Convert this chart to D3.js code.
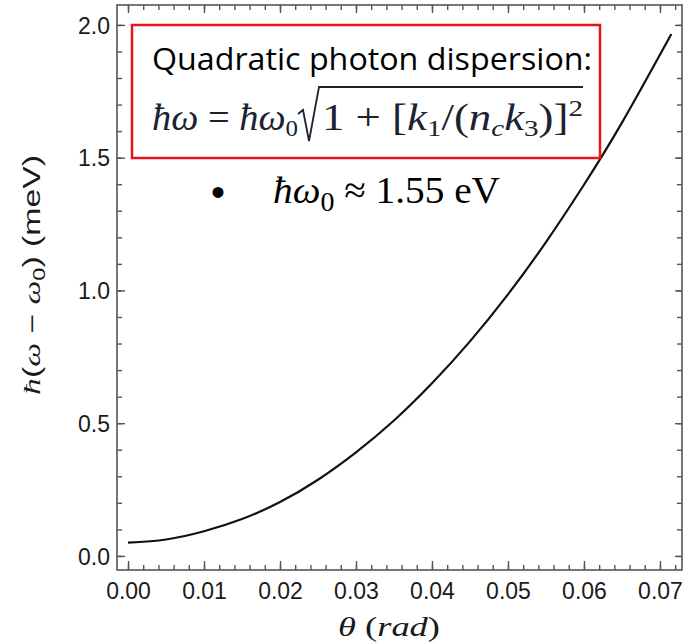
<!DOCTYPE html>
<html>
<head>
<meta charset="utf-8">
<script src="https://cdn.jsdelivr.net/npm/d3@7"></script>
<style>
  body { margin: 0; background: #fff; }
  .tick text { font-family: "Liberation Sans", Arial, sans-serif; font-size: 23px; fill: #1a1a1a; }
  .tick line { stroke: #555; stroke-width: 1.4; }
</style>
</head>
<body>
<div id="chart"></div>
<script>
// ---- data
var thetaVals  = [0, 0.005, 0.01, 0.015, 0.02, 0.025, 0.03, 0.035, 0.04, 0.045, 0.05, 0.055, 0.06, 0.065, 0.0715];
var energyVals = [0.05, 0.062, 0.093, 0.139, 0.203, 0.287, 0.390, 0.510, 0.650, 0.808, 0.985, 1.182, 1.398, 1.632, 1.966];
var xTicks = [0, 0.01, 0.02, 0.03, 0.04, 0.05, 0.06, 0.07];
var yTicks = [0, 0.5, 1.0, 1.5, 2.0];

var width = 696, height = 644;
var frame = {left: 117, right: 682, top: 5, bottom: 570};

var svg = d3.select("#chart").append("svg")
  .attr("width", width)
  .attr("height", height);

var x = d3.scaleLinear().domain([-0.00145, 0.0729]).range([frame.left, frame.right]);
var y = d3.scaleLinear().domain([-0.053, 2.075]).range([frame.bottom, frame.top]);

var xMinor = d3.range(0, 0.0721, 0.002);
var yMinor = d3.range(0, 2.05, 0.1);

// ---- ticks (inward, Mathematica frame style)
function noLabels(a) { return a.tickFormat(""); }

svg.append("g").attr("transform", `translate(0,${frame.bottom})`)
  .call(noLabels(d3.axisBottom(x).tickValues(xMinor).tickSizeInner(-5).tickSizeOuter(0)));
var xAxisG = svg.append("g").attr("transform", `translate(0,${frame.bottom})`)
  .call(d3.axisBottom(x).tickValues(xTicks).tickSizeInner(-9).tickSizeOuter(0).tickPadding(13)
    .tickFormat(d3.format(".2f")));
svg.append("g").attr("transform", `translate(0,${frame.top})`)
  .call(noLabels(d3.axisTop(x).tickValues(xMinor).tickSizeInner(-5).tickSizeOuter(0)));
svg.append("g").attr("transform", `translate(0,${frame.top})`)
  .call(noLabels(d3.axisTop(x).tickValues(xTicks).tickSizeInner(-8).tickSizeOuter(0)));

svg.append("g").attr("transform", `translate(${frame.left},0)`)
  .call(noLabels(d3.axisLeft(y).tickValues(yMinor).tickSizeInner(-5).tickSizeOuter(0)));
var yAxisG = svg.append("g").attr("transform", `translate(${frame.left},0)`)
  .call(d3.axisLeft(y).tickValues(yTicks).tickSizeInner(-8).tickSizeOuter(0).tickPadding(7)
    .tickFormat(d3.format(".1f")));
svg.append("g").attr("transform", `translate(${frame.right},0)`)
  .call(noLabels(d3.axisRight(y).tickValues(yMinor).tickSizeInner(-5).tickSizeOuter(0)));
svg.append("g").attr("transform", `translate(${frame.right},0)`)
  .call(noLabels(d3.axisRight(y).tickValues(yTicks).tickSizeInner(-7).tickSizeOuter(0)));

svg.selectAll(".domain").remove();
yAxisG.selectAll(".tick text").attr("dy", "0.36em");
xAxisG.selectAll(".tick text").attr("dy", "0.71em");

// frame
svg.append("rect")
  .attr("x", frame.left).attr("y", frame.top)
  .attr("width", frame.right - frame.left).attr("height", frame.bottom - frame.top)
  .attr("fill", "none").attr("stroke", "#555").attr("stroke-width", 1.6);

// ---- curve
var pts = thetaVals.map((t, i) => [t, energyVals[i]]);
svg.append("path")
  .datum(pts)
  .attr("fill", "none")
  .attr("stroke", "#111")
  .attr("stroke-width", 2.2)
  .attr("d", d3.line().x(d => x(d[0])).y(d => y(d[1])).curve(d3.curveNatural));

// ---- axis labels
var yLab = svg.append("text")
  .attr("transform", "translate(40,275) rotate(-90)")
  .attr("text-anchor", "middle")
  .attr("font-family", "Liberation Sans, Arial, sans-serif")
  .attr("font-size", 23)
  .attr("fill", "#1a1a1a")
  .attr("textLength", 240).attr("lengthAdjust", "spacingAndGlyphs");
yLab.append("tspan").attr("font-family", "Liberation Serif, serif").attr("font-style", "italic").text("ħ");
yLab.append("tspan").text("(");
yLab.append("tspan").attr("font-family", "Liberation Serif, serif").attr("font-style", "italic").text("ω");
yLab.append("tspan").text(" − ");
yLab.append("tspan").attr("font-family", "Liberation Serif, serif").attr("font-style", "italic").text("ω");
yLab.append("tspan").attr("font-size", 16).attr("dy", 5).text("0");
yLab.append("tspan").attr("dy", -5).text(") (meV)");

var xLab = svg.append("text")
  .attr("x", 389).attr("y", 636)
  .attr("text-anchor", "middle")
  .attr("font-family", "Liberation Serif, serif")
  .attr("font-size", 28)
  .attr("fill", "#1a1a1a")
  .attr("textLength", 102).attr("lengthAdjust", "spacingAndGlyphs");
xLab.append("tspan").attr("font-style", "italic").text("θ");
xLab.append("tspan").text(" (");
xLab.append("tspan").attr("font-style", "italic").text("rad");
xLab.append("tspan").text(")");

// ---- annotation box
svg.append("rect")
  .attr("x", 132).attr("y", 25).attr("width", 468).attr("height", 133)
  .attr("fill", "#fff").attr("stroke", "#e8141b").attr("stroke-width", 2.5);

svg.append("text")
  .attr("x", 152).attr("y", 70)
  .attr("font-family", "Open Sans, sans-serif")
  .attr("font-size", 31)
  .attr("fill", "#000")
  .attr("textLength", 440).attr("lengthAdjust", "spacingAndGlyphs")
  .text("Quadratic photon dispersion:");

var fcol = "#1b2230";
var fA = svg.append("text")
  .attr("x", 152).attr("y", 130)
  .attr("font-family", "Liberation Serif, serif")
  .attr("font-size", 37).attr("fill", fcol)
  .attr("textLength", 146).attr("lengthAdjust", "spacingAndGlyphs");
fA.append("tspan").attr("font-style", "italic").text("ħω");
fA.append("tspan").text(" = ");
fA.append("tspan").attr("font-style", "italic").text("ħω");
fA.append("tspan").attr("font-size", 24).attr("dy", 6).text("0");

// radical sign
svg.append("path")
  .attr("d", "M298,114 L303,110 L309,141 L319,87 L583,87")
  .attr("fill", "none").attr("stroke", fcol).attr("stroke-width", 1.8);

var fB = svg.append("text")
  .attr("x", 322).attr("y", 130)
  .attr("font-family", "Liberation Serif, serif")
  .attr("font-size", 37).attr("fill", fcol)
  .attr("textLength", 261).attr("lengthAdjust", "spacingAndGlyphs");
fB.append("tspan").text("1 + [");
fB.append("tspan").attr("font-style", "italic").text("k");
fB.append("tspan").attr("font-size", 24).attr("dy", 6).text("1");
fB.append("tspan").attr("dy", -6).text("/(");
fB.append("tspan").attr("font-style", "italic").text("n");
fB.append("tspan").attr("font-size", 24).attr("font-style", "italic").attr("dy", 6).text("c");
fB.append("tspan").attr("font-style", "italic").attr("dy", -6).text("k");
fB.append("tspan").attr("font-size", 24).attr("dy", 6).text("3");
fB.append("tspan").attr("dy", -6).text(")]");
fB.append("tspan").attr("font-size", 24).attr("dy", -14).text("2");

// bullet line
svg.append("text")
  .attr("x", 218).attr("y", 192)
  .attr("text-anchor", "middle")
  .attr("dy", "0.35em")
  .attr("font-family", "Liberation Sans, sans-serif")
  .attr("font-size", 40).attr("fill", "#000")
  .text("•");
var bl = svg.append("text")
  .attr("x", 273).attr("y", 203)
  .attr("font-family", "Liberation Serif, serif")
  .attr("font-size", 38).attr("fill", "#000")
  .attr("textLength", 227).attr("lengthAdjust", "spacingAndGlyphs");
bl.append("tspan").attr("font-style", "italic").text("ħω");
bl.append("tspan").attr("font-size", 27).attr("dy", 8).text("0");
bl.append("tspan").attr("dy", -8).text(" ≈ 1.55 eV");
</script>
</body>
</html>
